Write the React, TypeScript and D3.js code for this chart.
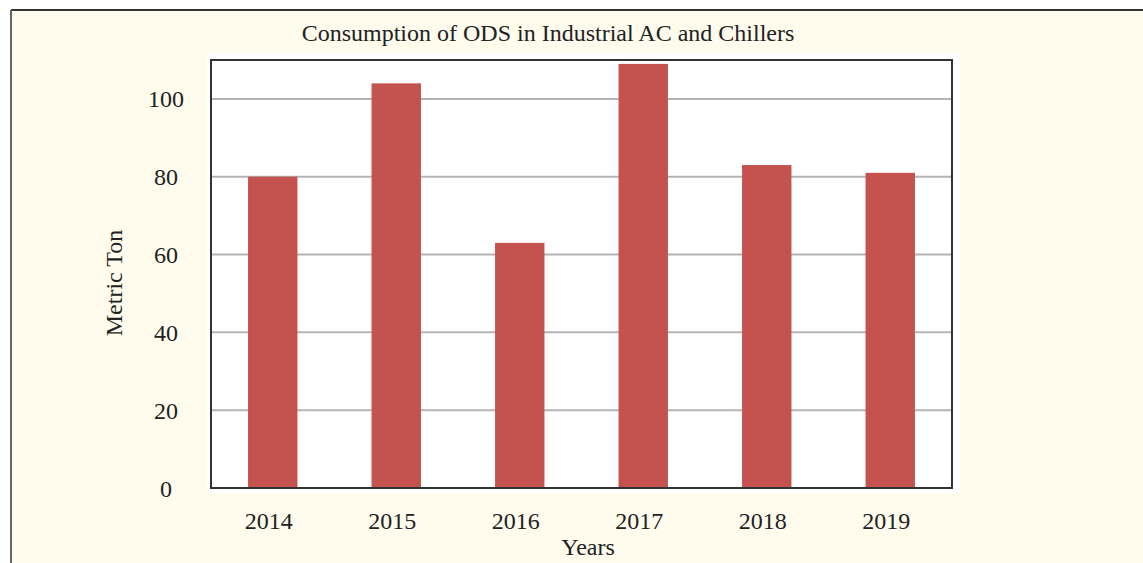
import React from "react";
import * as d3 from "d3";

const years = ["2014", "2015", "2016", "2017", "2018", "2019"];
const values = [80, 104, 63, 109, 83, 81];
const yTicks = [0, 20, 40, 60, 80, 100];
const title = "Consumption of ODS in Industrial AC and Chillers";
const xTitle = "Years";
const yTitle = "Metric Ton";

const W = 1143;
const H = 563;
const L = 211, R = 952, T = 60, B = 488;
const FONT = "'Liberation Serif', 'Times New Roman', serif";
const FS = 24;

export default function App() {
  const x = d3.scaleBand<string>().domain(years).range([L, R]).paddingInner(0.6).paddingOuter(0.3);
  const y = d3.scaleLinear().domain([0, 110]).range([B, T]);
  return (
    <svg width={W} height={H} style={{ position: "absolute", left: 0, top: 0 }}>
      <rect x={0} y={0} width={W} height={H} fill="#fff" />
      <rect x={11} y={10} width={W - 11} height={H - 10} fill="#FFFCEE" />
      <line x1={11} y1={10} x2={W} y2={10} stroke="#333" strokeWidth={2} />
      <line x1={11} y1={10} x2={11} y2={H} stroke="#666" strokeWidth={2} />
      <text x={548} y={41} textAnchor="middle" fontFamily={FONT} fontSize={FS} fill="#222">{title}</text>
      <rect x={207} y={53} width={753} height={440} fill="#fff" />
      {yTicks.filter((t) => t > 0).map((t) => (
        <line key={t} x1={L} x2={R} y1={y(t)} y2={y(t)} stroke="#b4b4b4" strokeWidth={2} />
      ))}
      {years.map((yr, i) => (
        <rect key={yr} x={x(yr)} y={y(values[i])} width={x.bandwidth()} height={B - y(values[i])} fill="#C4524F" />
      ))}
      <rect x={L} y={T} width={R - L} height={B - T} fill="none" stroke="#333" strokeWidth={2} />
      {yTicks.map((t) => (
        <text key={t} x={166} y={y(t) + 8.5} textAnchor="middle" fontFamily={FONT} fontSize={FS} fill="#222">{t}</text>
      ))}
      {years.map((yr) => (
        <text key={yr} x={(x(yr) as number) + x.bandwidth() / 2 - 4} y={529} textAnchor="middle" fontFamily={FONT} fontSize={FS} fill="#222">{yr}</text>
      ))}
      <text x={588} y={555} textAnchor="middle" fontFamily={FONT} fontSize={FS} fill="#222">{xTitle}</text>
      <text transform={`translate(122,283) rotate(-90)`} textAnchor="middle" fontFamily={FONT} fontSize={FS} fill="#222">{yTitle}</text>
    </svg>
  );
}
